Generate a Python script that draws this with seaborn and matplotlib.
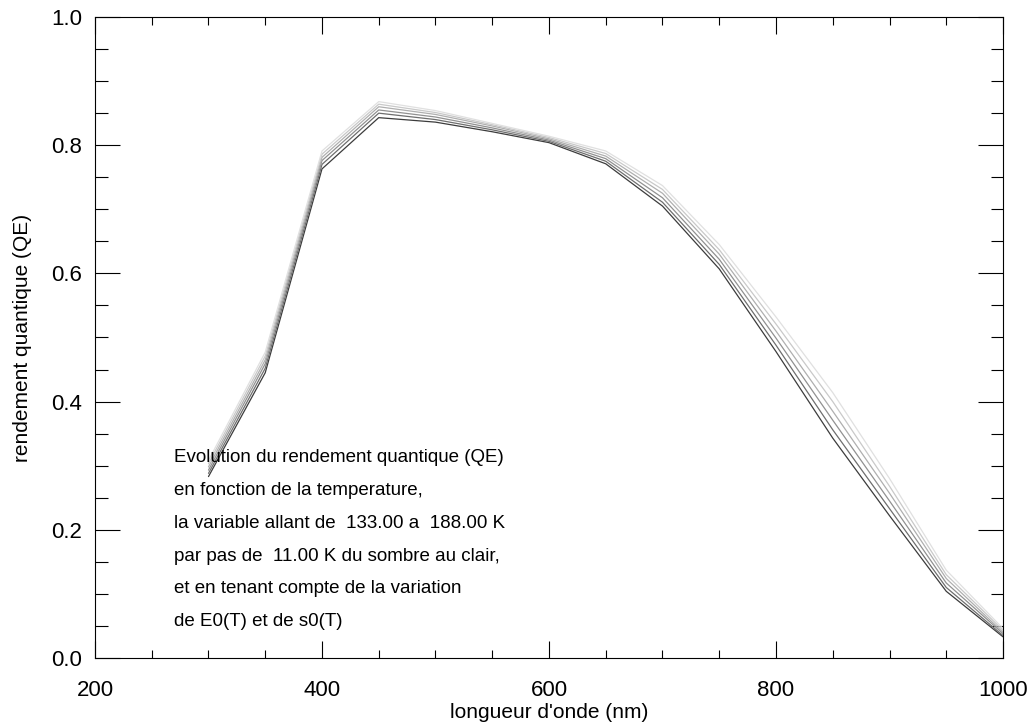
import matplotlib
matplotlib.use("Agg")
import matplotlib.pyplot as plt
import seaborn as sns
import pandas as pd
from matplotlib.ticker import MultipleLocator, FormatStrFormatter

# Wavelengths (nm)
wavelengths = [300, 350, 400, 450, 500, 550, 600, 650, 700, 750, 800, 850, 900, 950, 1000]

# Temperatures (K), dark -> light
temperatures = [133, 144, 155, 166, 177, 188]

# QE, one list per temperature
qe133 = [0.283, 0.445, 0.763, 0.843, 0.836, 0.821, 0.804, 0.771, 0.705, 0.607, 0.478, 0.343, 0.222, 0.104, 0.033]
qe144 = [0.288, 0.452, 0.770, 0.850, 0.840, 0.824, 0.806, 0.775, 0.711, 0.614, 0.488, 0.356, 0.233, 0.110, 0.035]
qe155 = [0.293, 0.459, 0.776, 0.855, 0.844, 0.827, 0.808, 0.779, 0.718, 0.622, 0.499, 0.371, 0.245, 0.117, 0.038]
qe166 = [0.298, 0.465, 0.781, 0.860, 0.848, 0.830, 0.810, 0.783, 0.725, 0.630, 0.510, 0.385, 0.257, 0.124, 0.040]
qe177 = [0.303, 0.471, 0.786, 0.864, 0.851, 0.832, 0.812, 0.787, 0.731, 0.637, 0.521, 0.400, 0.268, 0.130, 0.043]
qe188 = [0.308, 0.477, 0.791, 0.868, 0.854, 0.834, 0.814, 0.791, 0.737, 0.645, 0.532, 0.414, 0.280, 0.137, 0.046]

annotation = ["Evolution du rendement quantique (QE)",
              "en fonction de la temperature,",
              "la variable allant de  133.00 a  188.00 K",
              "par pas de  11.00 K du sombre au clair,",
              "et en tenant compte de la variation",
              "de E0(T) et de s0(T)"]

# Build a long table for seaborn
rows = []
for temp, qe in zip(temperatures, [qe133, qe144, qe155, qe166, qe177, qe188]):
    for wl, val in zip(wavelengths, qe):
        rows.append({"wl": wl, "qe": val, "T": temp})
df = pd.DataFrame(rows)

sns.set_style("white")
plt.rcParams['font.family'] = ['Liberation Sans', 'DejaVu Sans']
plt.rcParams['text.color'] = 'black'
plt.rcParams['axes.labelcolor'] = 'black'

fig = plt.figure(figsize=(10.3, 7.24), dpi=100)
ax = fig.add_axes([0.0922, 0.0912, 0.8816, 0.8853])

greys = ['#3c3c3c', '#6e6e6e', '#919191', '#afafaf', '#c9c9c9', '#e0e0e0']
sns.lineplot(data=df, x="wl", y="qe", hue="T", palette=greys, linewidth=0.9,
             legend=False, ax=ax)

ax.set_xlim(200, 1000)
ax.set_ylim(0, 1.0)
ax.xaxis.set_major_locator(MultipleLocator(200))
ax.xaxis.set_minor_locator(MultipleLocator(50))
ax.yaxis.set_major_locator(MultipleLocator(0.2))
ax.yaxis.set_minor_locator(MultipleLocator(0.05))
ax.yaxis.set_major_formatter(FormatStrFormatter('%.1f'))

ax.tick_params(axis='both', which='both', direction='in', top=True, right=True,
               bottom=True, left=True, colors='black', labelsize=16, width=0.8)
ax.tick_params(axis='x', which='major', length=12, pad=16)
ax.tick_params(axis='x', which='minor', length=6)
ax.tick_params(axis='y', which='major', length=18, pad=9)
ax.tick_params(axis='y', which='minor', length=9)

for sp in ax.spines.values():
    sp.set_color('black')
    sp.set_linewidth(0.8)

ax.set_xlabel("longueur d'onde (nm)", fontsize=15, labelpad=1)
ax.set_ylabel("rendement quantique (QE)", fontsize=15, labelpad=14)

# Annotation block, one line at a time
y0 = 0.312
for i, line in enumerate(annotation):
    ax.text(270, y0 - i * 0.051, line, fontsize=13.5, va='center', ha='left')

fig.savefig("out.png", dpi=100)
